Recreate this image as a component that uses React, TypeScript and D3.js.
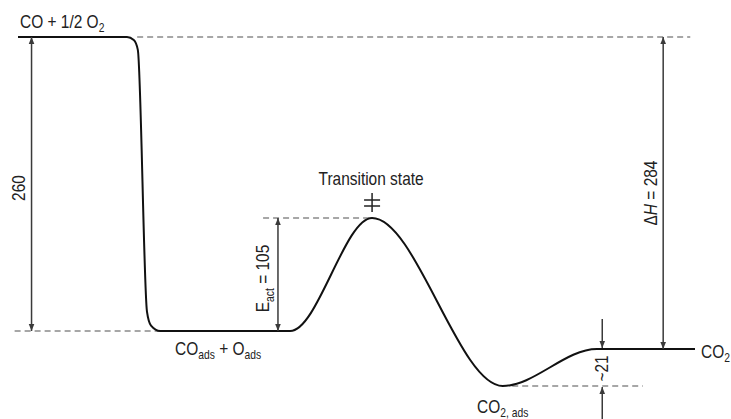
import React from "react";
import * as d3 from "d3";

// ---- data ----
// energy levels (kJ/mol, relative to CO + 1/2 O2)
const levelNames = ["CO + 1/2 O2", "COads + Oads", "Transition state", "CO2,ads", "CO2"];
const levelEnergies = [0, -260, -155, -305, -284];
// diagram is schematic: each level drawn at its own height
const levelPixels = [37, 331, 218, 386, 349];

// reaction profile (reaction coordinate 0..100, energy)
const profileX = [0, 16.1, 17.1, 17.7, 19.05, 19.65, 21.0, 40.2, 52.3, 71.6, 85.5, 100];
const profileE = [0, 0, -2.6, -11, -242, -255, -260, -260, -155, -305, -284, -284];

// annotation values
const annotLabels = ["260", "105", "284", "~21"];

const W = 731;
const H = 419;
const SX = 0.86;

function T({ x, y, rot = 0, anchor = "start", size = 18, children }: any) {
  return (
    <text
      transform={`translate(${x},${y}) rotate(${rot}) scale(${SX},1)`}
      textAnchor={anchor}
      fontSize={size}
      fill="#222"
    >
      {children}
    </text>
  );
}

export default function App() {
  const x = d3.scaleLinear().domain([0, 100]).range([18, 695]);
  const sorted = levelEnergies
    .map((e, i) => [e, levelPixels[i]])
    .sort((a, b) => b[0] - a[0]);
  const y = d3
    .scaleLinear()
    .domain(sorted.map((d) => d[0]))
    .range(sorted.map((d) => d[1]));

  const line = d3
    .line<number>()
    .x((_, i) => x(profileX[i]))
    .y((_, i) => y(profileE[i]))
    .curve(d3.curveMonotoneX);

  const font = "'Liberation Sans', Arial, sans-serif";
  const arrowColor = "#3a3a3a";
  const dashColor = "#8a8a8a";

  const E0 = levelEnergies[0];
  const Eads = levelEnergies[1];
  const Ets = levelEnergies[2];
  const Eco2ads = levelEnergies[3];
  const Eco2 = levelEnergies[4];

  const dashes = [
    { x1: 17.6, x2: 99.3, e: E0 },
    { x1: -0.5, x2: 21, e: Eads },
    { x1: 36.2, x2: 52.3, e: Ets },
    { x1: 73, x2: 92.3, e: Eco2ads },
  ];

  const ax260 = x(2.0);
  const axAct = x(38.4);
  const axDH = x(95.3);
  const ax21 = x(86.3);
  const sub = 12;

  const tsX = x(52.3);
  const tsY = y(Ets);

  return (
    <svg width={W} height={H} style={{ display: "block", position: "absolute", left: 0, top: 0 }} fontFamily={font}>
      <defs>
        <marker id="ah" viewBox="0 0 10 10" refX="10" refY="5" markerWidth="7" markerHeight="8" orient="auto-start-reverse" markerUnits="userSpaceOnUse">
          <path d="M0,1 L10,5 L0,9 Z" fill={arrowColor} />
        </marker>
      </defs>
      <rect width={W} height={H} fill="#fff" />

      {dashes.map((d, i) => (
        <line key={i} x1={x(d.x1)} x2={x(d.x2)} y1={y(d.e)} y2={y(d.e)} stroke={dashColor} strokeWidth={1.6} strokeDasharray="6,4" />
      ))}

      <path d={line(profileX) || ""} fill="none" stroke="#111" strokeWidth={2} />

      {/* 260 */}
      <line x1={ax260} x2={ax260} y1={y(E0)} y2={y(Eads)} stroke={arrowColor} strokeWidth={1.5} markerStart="url(#ah)" markerEnd="url(#ah)" />
      <T x={ax260 - 7} y={(y(E0) + y(Eads)) / 2 + 4} rot={-90} anchor="middle">
        {annotLabels[0]}
      </T>

      {/* E_act */}
      <line x1={axAct} x2={axAct} y1={y(Ets)} y2={y(Eads)} stroke={arrowColor} strokeWidth={1.5} markerStart="url(#ah)" markerEnd="url(#ah)" />
      <T x={axAct - 9} y={(y(Ets) + y(Eads)) / 2 + 4} rot={-90} anchor="middle">
        E<tspan fontSize={sub} dy={5}>act</tspan>
        <tspan dy={-5}> = {annotLabels[1]}</tspan>
      </T>

      {/* ΔH */}
      <line x1={axDH} x2={axDH} y1={y(E0)} y2={y(Eco2)} stroke={arrowColor} strokeWidth={1.5} markerStart="url(#ah)" markerEnd="url(#ah)" />
      <T x={axDH - 6} y={(y(E0) + y(Eco2)) / 2} rot={-90} anchor="middle">
        Δ<tspan fontStyle="italic">H</tspan> = {annotLabels[2]}
      </T>

      {/* ~21 */}
      <line x1={ax21} x2={ax21} y1={y(Eco2) - 30} y2={y(Eco2) - 1} stroke={arrowColor} strokeWidth={1.5} markerEnd="url(#ah)" />
      <line x1={ax21} x2={ax21} y1={H} y2={y(Eco2ads) + 1} stroke={arrowColor} strokeWidth={1.5} markerEnd="url(#ah)" />
      <T x={ax21 + 6} y={(y(Eco2) + y(Eco2ads)) / 2 + 1} rot={-90} anchor="middle">
        {annotLabels[3]}
      </T>

      {/* level labels */}
      <T x={20} y={28}>
        CO + 1/2 O<tspan fontSize={sub} dy={4}>2</tspan>
      </T>
      <T x={tsX - 1} y={185} anchor="middle">
        {levelNames[2]}
      </T>
      {/* transition-state double-cross symbol */}
      <g stroke="#222" strokeWidth={1.5}>
        <line x1={tsX} x2={tsX} y1={tsY - 25} y2={tsY - 6} />
        <line x1={tsX - 8} x2={tsX + 8} y1={tsY - 18} y2={tsY - 18} />
        <line x1={tsX - 8} x2={tsX + 8} y1={tsY - 12} y2={tsY - 12} />
      </g>
      <T x={175} y={355}>
        CO<tspan fontSize={sub} dy={4}>ads</tspan>
        <tspan dy={-4}> + O</tspan>
        <tspan fontSize={sub} dy={4}>ads</tspan>
      </T>
      <T x={477} y={413}>
        CO<tspan fontSize={sub} dy={4}>2, ads</tspan>
      </T>
      <T x={701} y={358}>
        CO<tspan fontSize={sub} dy={4}>2</tspan>
      </T>
    </svg>
  );
}
